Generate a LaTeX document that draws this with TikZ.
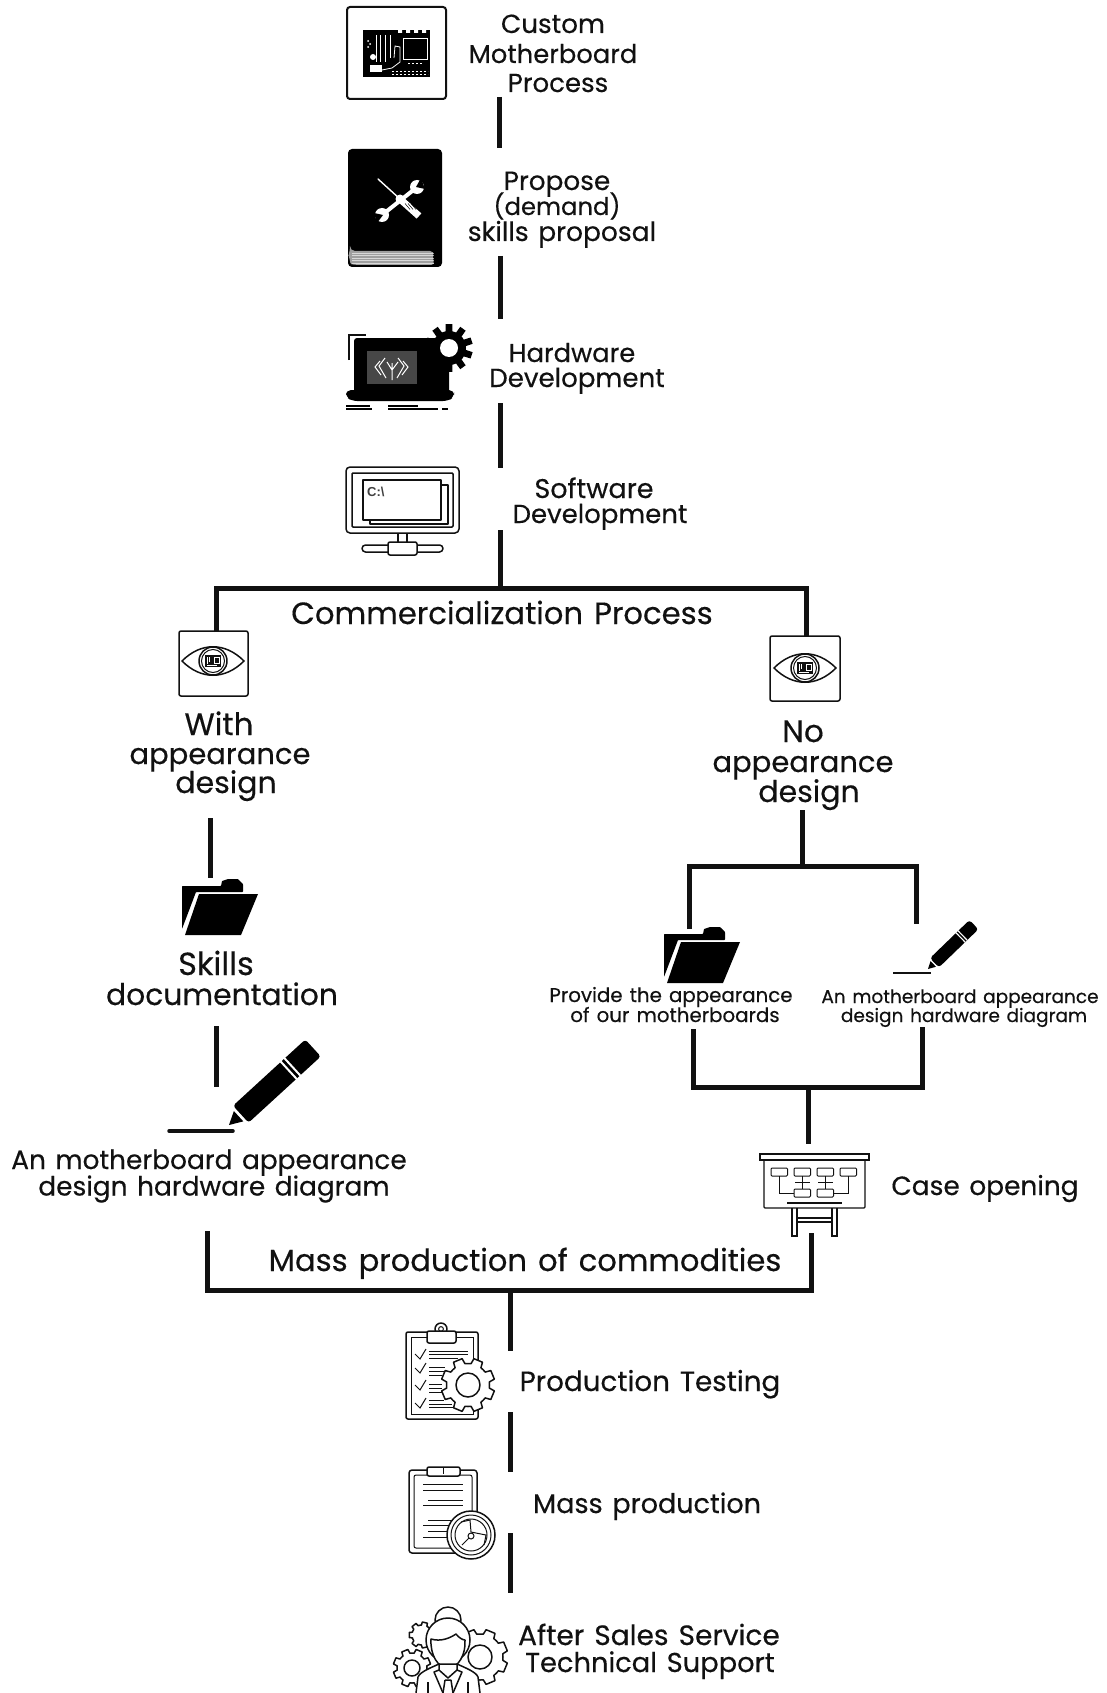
\documentclass[tikz,border=0pt]{standalone}
\usepackage{fontspec}
\usetikzlibrary{calc}
\setmainfont{Poppins}[WordSpace=1.35,FakeBold=0.35]
\newfontfamily\cfont{Liberation Sans}
\definecolor{ink}{HTML}{111111}
\tikzset{
  x=1pt,y=-1pt,
  lk/.style={line width=5pt,draw=ink,line cap=butt},
  ic/.style={draw=ink,line width=1.5pt,line join=round},
  thin ic/.style={draw=ink,line width=1pt},
  lb/.style={anchor=base,inner sep=0pt,outer sep=0pt,text=ink,font=\fontsize{#1}{#1}\selectfont},
}
\newcommand\mygear[6]{% cx cy router rinner teeth style
  \pgfmathsetmacro\gstep{360/#5}
  \draw[#6,shift={(#1,#2)}] (0:#4)
    \foreach \k [evaluate=\k as \ga using (\k-1)*360/#5] in {1,...,#5}{
      -- ({\ga+0.18*\gstep}:#4) -- ({\ga+0.28*\gstep}:#3) -- ({\ga+0.72*\gstep}:#3) -- ({\ga+0.82*\gstep}:#4) -- ({\ga+\gstep}:#4)
    } -- cycle;
}
\newcommand\myeye[2]{%
  \begin{scope}[shift={(#1,#2)}]
    \draw[ic,fill=white] (-31,0) .. controls (-12,-19) and (12,-19) .. (31,0) .. controls (12,19) and (-12,19) .. (-31,0) -- cycle;
    \draw[ic] (0,0) circle[radius=14];
    \draw[thin ic] (0,0) circle[radius=11.5];
    \fill[ink] (-8,-6) rectangle (8,6);
    \draw[white,line width=.7pt] (1,-4) rectangle (6,2) (-6,-4) -- (-6,3) (-4,-4) -- (-4,1) (-6,4.5) -- (4,4.5);
  \end{scope}
}
\newcommand\myfolder[4]{% x y xs ys
  \begin{scope}[shift={(#1,#2)},xscale=#3,yscale=#4]
    \fill[black,rounded corners=.6pt] (0,7) -- (39,7) -- (40,2) -- (46,0) -- (56,0) -- (61,5) -- (61,13) -- (14,13) -- (0,50) -- cycle;
    \fill[black] (17,15) -- (76,15) -- (59,56) -- (3,56) -- cycle;
  \end{scope}
}
\newcommand\mypencil[4]{% tipx tipy angle scale
  \begin{scope}[shift={(#1,#2)},rotate=#3,scale=#4]
    \fill[black] (0,0) -- (13,-7) -- (13,7) -- cycle;
    \fill[black,rounded corners=3pt] (16,-11.5) -- (114,-11.5) -- (114,11.5) -- (16,11.5) -- cycle;
    \fill[white] (80,-12) rectangle (82,12) (85,-12) rectangle (87,12);
  \end{scope}
}
\begin{document}
\begin{tikzpicture}
\useasboundingbox (0,0) rectangle (1107,1693);
\fill[white] (0,0) rectangle (1107,1693);

% ---------- named coordinates for connectors
\foreach \n/\px/\py in {
  a1/499/97,a2/499/148,b1/500/256,b2/500/319,c1/500/403,c2/500/468,
  d1/500/530,d2/500/588,
  eL/216/632,eLc/216/588,eR/806/636,eRc/806/588,
  f1/210/818,f2/210/878,g1/216/1026,g2/216/1087,
  h1/802/810,h2/802/866,iL/689/866,iLb/689/929,iR/916/866,iRb/916/924,
  j1/693/1029,j2/693/1087,j3/922/1087,j4/922/1027,k1/808/1087,k2/808/1144,
  l1/207/1231,l2/207/1290,l3/811/1290,l4/811/1233,
  m1/510/1290,m2/510/1351,n1/510/1412,n2/510/1472,o1/510/1533,o2/510/1593}
  {\coordinate (\n) at (\px,\py);}

\draw[lk] (a1) -- (a2);
\draw[lk] (b1) -- (b2);
\draw[lk] (c1) -- (c2);
\draw[lk] (d1) -- (d2);
\draw[lk] (eL) -- (eLc) -- (eRc) -- (eR);
\draw[lk] (f1) -- (f2);
\draw[lk] (g1) -- (g2);
\draw[lk] (h1) -- (h2);
\draw[lk] (iLb) -- (iL) -- (iR) -- (iRb);
\draw[lk] (j1) -- (j2) -- (j3) -- (j4);
\draw[lk] (k1) -- (k2);
\draw[lk] (l1) -- (l2) -- (l3) -- (l4);
\draw[lk] (m1) -- (m2);
\draw[lk] (n1) -- (n2);
\draw[lk] (o1) -- (o2);

% ---------- motherboard icon
\draw[draw=ink,line width=2pt,rounded corners=3pt] (347,7) rectangle (446,99);
\fill[black] (363,30) rectangle (430,77);
\fill[white] (398,29) rectangle (402,33) (406,29) rectangle (410,33) (414,29) rectangle (418,33) (422,29) rectangle (426,33);
\draw[white,line width=.8pt] (376,35) -- (376,62) (380,35) -- (380,62) (385,35) -- (385,62) (390,35) -- (390,58);
\fill[white] (373,57) circle[radius=3];
\fill[white] (370,65) rectangle (382,72);
\draw[white,line width=1pt] (403,39) rectangle (427,60);
\draw[white,line width=.8pt] (382,70) -- (392,68) -- (400,62) -- (400,47) -- (395,46) -- (394,58);
\draw[white,line width=.8pt,dash pattern=on 2pt off 2pt] (392,71) -- (428,71) (392,74) -- (428,74) (408,63) -- (422,63);
\fill[white] (368,41) circle[radius=1] (370,44) circle[radius=1] (368,47) circle[radius=1];

% ---------- book icon
\fill[black,rounded corners=4pt] (348,149) rectangle (442,267);
\fill[gray!75,rounded corners=5pt] (350,251) -- (435,251) .. controls (433,256) and (433,260) .. (436,265) -- (356,265) .. controls (350,264) and (349,254) .. (350,251) -- cycle;
\foreach \yy in {253,255.5,258,260.5,263}{\draw[white,line width=.3pt,opacity=.6] (352,\yy) -- (434,\yy);}
\draw[white,line width=1.4pt,line cap=round] (378,179) -- (400,199);
\draw[white,line width=7pt] (400,199) -- (419,216);
\foreach \o in {0,3,6}{\draw[black,line width=.5pt] ($(405,200)+(\o,3.5)$) -- ++(5,6);}
\draw[white,line width=4pt] (382,215) -- (416,188);
\fill[white] (382,215) circle[radius=7] (417,187) circle[radius=7] (400,199) circle[radius=4.5];
\fill[black] (374,213) -- (383,215) -- (377,223) -- cycle (425,189) -- (416,187) -- (421,178) -- cycle;

% ---------- laptop icon
\fill[black,rounded corners=3pt] (354,338) rectangle (449,393);
\fill[black,rounded corners=5pt] (346,390) -- (454,390) -- (454,397) -- (448,401) -- (352,401) -- (346,397) -- cycle;
\draw[draw=ink,line width=1.8pt] (349,360) -- (349,335) -- (366,335);
\mygear{449}{348}{24}{17}{10}{fill=black,draw=none}
\fill[white] (449,348) circle[radius=9];
\fill[black!72] (367,351) rectangle (417,384);
\draw[white,line width=1pt] (380,361) -- (375,367) -- (381,375) (385,358) -- (379,366) -- (386,378) (392,363) -- (392,380) (403,361) -- (408,367) -- (402,375) (398,358) -- (404,366) -- (397,378) (392,370) -- (387,362) (392,370) -- (398,362);
\draw[black,line width=1.6pt] (346,406) -- (370,406) (346,409) -- (372,409) (388,406) -- (418,406) (388,409) -- (438,409) (442,409) -- (448,409);

% ---------- monitor icon
\draw[ic,rounded corners=4pt] (346,467) rectangle (459,533);
\draw[ic,rounded corners=1pt] (352,473) rectangle (453,527);
\draw[ic] (370,485) rectangle (448,524);
\draw[ic,fill=white] (363,480) rectangle (441,520);
\node[anchor=base west,inner sep=0pt,text=black!75] (cprompt) at (367,496) {\cfont\bfseries\fontsize{13}{13}\selectfont C:\textbackslash};
\draw[ic] (398,533) -- (398,543) (407,533) -- (407,543);
\draw[ic,rounded corners=3.5pt] (362,545) rectangle (443,552);
\draw[ic,fill=white,rounded corners=2pt] (388,542) rectangle (417,555);

% ---------- eye icons
\draw[draw=ink,line width=1.5pt,rounded corners=2pt] (179,631) rectangle (248,696);
\myeye{213}{661}
\draw[draw=ink,line width=1.5pt,rounded corners=2pt] (770,636) rectangle (840,701);
\myeye{805}{668}

% ---------- folders and pencils
\myfolder{182}{879}{1}{1}
\myfolder{664}{927}{1}{1}
\mypencil{229}{1125}{42.5}{1}
\draw[draw=ink,line width=3.5pt,line cap=round] (169,1131) -- (233,1131);
\mypencil{928}{969}{44}{.56}
\draw[draw=ink,line width=2pt] (893,973) -- (931,973);

% ---------- presentation board
\draw[thin ic,line width=1.3pt] (760,1154) rectangle (869,1160);
\draw[thin ic,line width=1.3pt,rounded corners=1pt] (764,1160) -- (764,1208) -- (865,1208) -- (865,1160);
\foreach \bx in {771,794,817,840}{\draw[thin ic,rounded corners=1pt] (\bx,1168) rectangle ++(16.5,8);}
\foreach \bx in {794,817}{\draw[thin ic,rounded corners=1pt] (\bx,1189) rectangle ++(16.5,8);}
\draw[thin ic] (779,1176) -- (779,1193) -- (794,1193) (848,1176) -- (848,1193) -- (833.5,1193)
  (802,1176) -- (802,1189) (825,1176) -- (825,1189) (795,1182) -- (810,1182) (818,1182) -- (833,1182);
\draw[thin ic,line width=1.3pt] (787,1203) -- (842,1203);
\draw[thin ic,line width=1.3pt] (792,1208) -- (792,1236) -- (797,1236) -- (797,1208) (832,1208) -- (832,1236) -- (837,1236) -- (837,1208)
  (797,1218) -- (832,1218) (797,1222) -- (832,1222);

% ---------- clipboard with gear
\draw[ic,rounded corners=2pt] (406,1332) -- (406,1419) -- (478,1419) -- (478,1332) -- cycle;
\draw[thin ic] (411,1337) -- (411,1414) -- (473,1414) -- (473,1337) -- cycle;
\draw[ic,fill=white] (441,1329) circle[radius=6];
\draw[ic,fill=white,rounded corners=2pt] (427,1331) rectangle (456,1343);
\draw[thin ic] (441,1329) circle[radius=2.4];
\foreach \yy in {1354,1368,1385,1403}{\draw[thin ic] (415,\yy) -- (420,\yy+5) -- (426,\yy-5);}
\draw[draw=ink,line width=.9pt] (429,1351) -- (468,1351) (429,1354) -- (468,1354) (429,1358) -- (458,1358)
  (429,1367) -- (445,1367) (429,1371) -- (445,1371) (429,1375) -- (442,1375)
  (429,1384) -- (442,1384) (429,1388) -- (442,1388) (429,1392) -- (442,1392)
  (429,1400) -- (444,1400) (429,1404) -- (452,1404) (429,1407) -- (454,1407);
\mygear{468}{1385}{27}{21.5}{8}{ic,fill=white}
\draw[ic] (468,1385) circle[radius=12];

% ---------- clipboard with dial
\draw[ic,rounded corners=3pt] (409,1470) rectangle (477,1553);
\draw[thin ic,rounded corners=2pt] (414,1475) rectangle (472,1548);
\draw[ic,fill=white,rounded corners=2pt] (427,1467) rectangle (460,1476);
\draw[thin ic] (443,1468) -- (443,1474);
\draw[draw=ink,line width=1pt] (423,1484) -- (463,1484) (423,1490) -- (463,1490) (428,1500) -- (463,1500)
  (423,1505) -- (463,1505) (428,1520) -- (463,1520) (423,1525) -- (463,1525) (428,1531) -- (463,1531) (423,1537) -- (463,1537);
\draw[ic,fill=white] (471,1535) circle[radius=24];
\draw[thin ic] (471,1535) circle[radius=20];
\draw[thin ic] (471,1535) circle[radius=16];
\draw[thin ic] (461,1522) -- (470,1520) -- (471,1532) -- (486,1535) -- (484,1545);
\fill[white,draw=ink,line width=1pt] (471,1536) circle[radius=3];
\draw[thin ic] (469,1538) -- (462,1545);

% ---------- person with gears
\mygear{480}{1657}{28}{23}{8}{ic,fill=white}
\draw[ic] (480,1657) circle[radius=12];
\mygear{422}{1635}{13}{10}{7}{ic,fill=white}
\mygear{412}{1668}{19}{15}{8}{ic,fill=white}
\draw[ic] (412,1668) circle[radius=8];
\draw[ic,fill=white] (448,1620) circle[radius=13];
\draw[ic,fill=white] (448,1640) circle[radius=22];
\draw[ic,fill=white] (431,1639) .. controls (441,1642) and (450,1638) .. (456,1634) .. controls (459,1638) and (463,1640) .. (465,1640)
  .. controls (466,1655) and (458,1668) .. (448,1668) .. controls (438,1668) and (430,1655) .. (431,1639) -- cycle;
\draw[ic,fill=white] (416,1693) -- (418,1677) .. controls (420,1672) and (430,1668) .. (439,1664) -- (457,1664) .. controls (466,1668) and (476,1672) .. (478,1677) -- (480,1693);
\draw[ic] (439,1664) -- (439,1670) -- (448,1678) -- (457,1670) -- (457,1664);
\draw[ic] (439,1670) -- (434,1672) -- (443,1693) (457,1670) -- (462,1672) -- (453,1693);
\draw[ic] (445,1680) -- (443,1693) (451,1680) -- (453,1693) (445,1680) -- (451,1680);
\draw[ic] (428,1682) -- (428,1693) (468,1682) -- (468,1693);

% ---------- labels
\node[lb=26.2] (t1a) at (553,33) {Custom};
\node[lb=25.8] (t1b) at (553,63) {Motherboard};
\node[lb=26] (t1c) at (558,92) {Process};
\node[lb=26.3] (t2a) at (557,190) {Propose};
\node[lb=24.3] (t2b) at (557,215) {(demand)};
\node[lb=26.5] (t2c) at (562,241) {skills proposal};
\node[lb=25.8] (t3a) at (572,362) {Hardware};
\node[lb=26.1] (t3b) at (577,387) {Development};
\node[lb=27] (t4a) at (594,498) {Software};
\node[lb=26] (t4b) at (600,523) {Development};
\node[lb=30.7] (t5) at (502,624) {Commercialization Process};
\node[lb=31] (t6a) at (219,735) {With};
\node[lb=29] (t6b) at (220,764) {appearance};
\node[lb=30] (t6c) at (226,793) {design};
\node[lb=32] (t7a) at (216,975) {Skills};
\node[lb=29.8] (t7b) at (222,1005) {documentation};
\node[lb=26.4] (t8a) at (209,1169) {An motherboard appearance};
\node[lb=26.4] (t8b) at (214,1195.5) {design hardware diagram};
\node[lb=31] (t9a) at (803,742) {No};
\node[lb=29] (t9b) at (803,772) {appearance};
\node[lb=30] (t9c) at (809,802) {design};
\node[lb=19.8] (t10a) at (671,1002) {Provide the appearance};
\node[lb=19.8] (t10b) at (675,1022) {of our motherboards};
\node[lb=18.5] (t11a) at (960,1003) {An motherboard appearance};
\node[lb=18.5] (t11b) at (964,1022) {design hardware diagram};
\node[lb=26.4] (t12) at (985,1195) {Case opening};
\node[lb=30.6] (t13) at (525,1271) {Mass production of commodities};
\node[lb=27.8] (t14) at (650,1391) {Production Testing};
\node[lb=27] (t15) at (647,1513) {Mass production};
\node[lb=28] (t16a) at (649,1645) {After Sales Service};
\node[lb=27.3] (t16b) at (650,1672) {Technical Support};
\end{tikzpicture}
\end{document}
